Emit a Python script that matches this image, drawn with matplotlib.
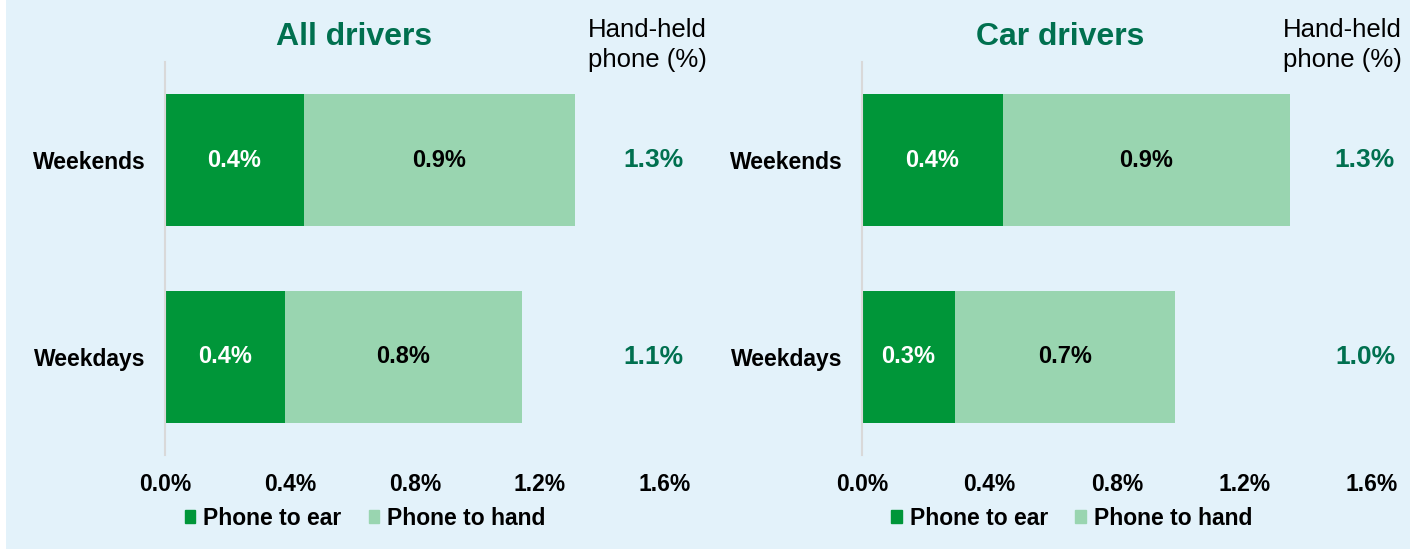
import matplotlib.pyplot as plt
from matplotlib.patches import Patch, Rectangle

categories = ['Weekdays', 'Weekends']

all_ear = [0.384, 0.445]
all_hand = [0.758, 0.867]
all_ear_lbl = ['0.4%', '0.4%']
all_hand_lbl = ['0.8%', '0.9%']
all_total_lbl = ['1.1%', '1.3%']

car_ear = [0.292, 0.442]
car_hand = [0.690, 0.901]
car_ear_lbl = ['0.3%', '0.4%']
car_hand_lbl = ['0.7%', '0.9%']
car_total_lbl = ['1.0%', '1.3%']

ticks = [0.0, 0.4, 0.8, 1.2, 1.6]
tick_lbl = ['0.0%', '0.4%', '0.8%', '1.2%', '1.6%']

dark = '#009639'
light = '#99D5B0'
teal = '#00704F'
bg = '#E3F2FA'
arial = ['Liberation Sans', 'DejaVu Sans']

fig = plt.figure(figsize=(14.1, 5.49), dpi=100)
fig.patch.set_facecolor(bg)
fig.patches.append(Rectangle((0, 0), 6 / 1410, 1, transform=fig.transFigure,
                             facecolor='white', edgecolor='none', zorder=-1))


def panel(rect, title, title_x, ear, hand, ear_lbl, hand_lbl, total_lbl,
          total_x, note_x, leg_x):
    ax = fig.add_axes(rect)
    ax.set_facecolor('none')
    y = list(range(len(categories)))
    ax.barh(y, ear, height=0.67, color=dark)
    ax.barh(y, hand, left=ear, height=0.67, color=light)
    for i in y:
        ax.text(ear[i] / 2, i, ear_lbl[i], ha='center', va='center',
                color='white', fontsize=17, fontweight='bold', family=arial)
        ax.text(ear[i] + hand[i] / 2, i, hand_lbl[i], ha='center', va='center',
                color='black', fontsize=17, fontweight='bold', family=arial)
        ax.text(total_x, i, total_lbl[i], ha='center', va='center',
                color=teal, fontsize=19, fontweight='bold', family=arial)
    ax.set_xlim(0, 1.6)
    ax.set_ylim(-0.5, 1.5)
    ax.set_xticks(ticks)
    ax.set_xticklabels(tick_lbl, fontsize=16.5, fontweight='bold', family=arial)
    ax.set_yticks(y)
    ax.set_yticklabels(categories, fontsize=16.5, fontweight='bold', family=arial)
    ax.tick_params(length=0)
    ax.tick_params(axis='x', pad=13)
    ax.tick_params(axis='y', pad=14)
    for s in ['top', 'right', 'bottom']:
        ax.spines[s].set_visible(False)
    ax.spines['left'].set_color('#D9D9D9')
    ax.spines['left'].set_linewidth(1.5)

    fig.text(title_x, 0.933, title, ha='center', va='center', color=teal,
             fontsize=23, fontweight='bold', family=arial)
    fig.text(note_x, 0.968, 'Hand-held\nphone (%)', ha='left', va='top',
             fontsize=18.5, family=arial, linespacing=1.35)
    handles = [Patch(color=dark, label='Phone to ear'),
               Patch(color=light, label='Phone to hand')]
    fig.legend(handles=handles, loc='center', bbox_to_anchor=(leg_x, 0.056),
               ncol=2, frameon=False, handlelength=0.45, handleheight=0.45,
               handletextpad=0.35, columnspacing=1.2,
               prop={'family': arial, 'weight': 'bold', 'size': 16.5})
    return ax


panel([165 / 1410, 0.171, 500 / 1410, 0.716], 'All drivers', 0.251,
      all_ear, all_hand, all_ear_lbl, all_hand_lbl, all_total_lbl,
      1.562, 0.417, 0.259)
panel([862 / 1410, 0.171, 510 / 1410, 0.716], 'Car drivers', 0.752,
      car_ear, car_hand, car_ear_lbl, car_hand_lbl, car_total_lbl,
      1.578, 0.91, 0.760)

fig.savefig('out.png', dpi=100, facecolor=fig.get_facecolor())
